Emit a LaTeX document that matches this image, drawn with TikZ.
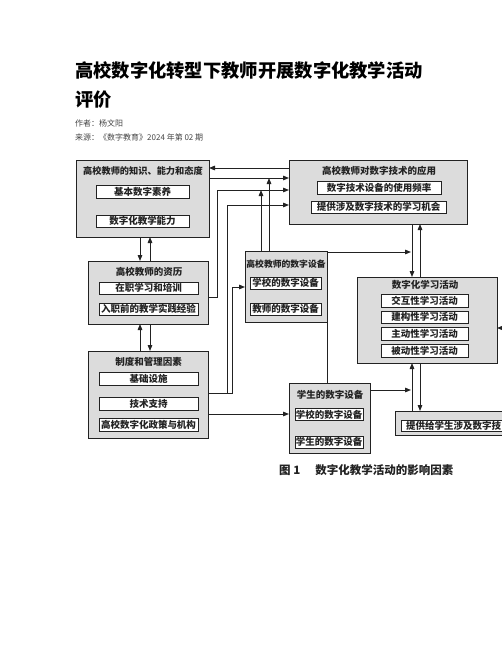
\documentclass[tikz,border=0pt]{standalone}
\usepackage{fontspec}
\setmainfont{Liberation Sans}
\newfontfamily\cjk{Noto Sans CJK SC}
\usetikzlibrary{arrows.meta}
\definecolor{linec}{HTML}{222222}
\definecolor{boxgray}{HTML}{DCDCDC}
\definecolor{metagray}{HTML}{444444}
\newcommand{\bxfont}{\cjk\bfseries\fontsize{9.5}{10}\selectfont}
\begin{document}
\begin{tikzpicture}[x=1pt,y=-1pt,
  obox/.style={draw=linec,line width=1pt,fill=boxgray,inner sep=0pt,outer sep=0pt},
  ibox/.style={draw=linec,line width=0.9pt,fill=white,inner sep=0pt,outer sep=0pt,font=\bxfont,text=linec},
  ttl/.style={inner sep=0pt,font=\bxfont,text=linec},
  conn/.style={draw=linec,line width=0.9pt},
  arr/.style={conn,-{Triangle[length=6pt,width=4.6pt]}}]
\useasboundingbox (0,0) rectangle (502,649);
% heading
\node[anchor=west,inner sep=0pt,font=\cjk\bfseries\fontsize{18.3}{20}\selectfont] (t1) at (75,70) {高校数字化转型下教师开展数字化教学活动};
\node[anchor=west,inner sep=0pt,font=\cjk\bfseries\fontsize{18.3}{20}\selectfont] (t2) at (75,100) {评价};
\node[anchor=west,inner sep=0pt,font=\cjk\fontsize{8}{9}\selectfont,text=metagray] (au) at (75,123) {作者：杨文阳};
\node[anchor=west,inner sep=0pt,font=\cjk\fontsize{8}{9}\selectfont,text=metagray] (src) at (75,137) {来源：《数字教育》2024 年第 02 期};
% boxes
\node[obox,minimum width=133pt,minimum height=77pt] (kab) at (142.5,198.5) {};
\node[ttl,font=\cjk\bfseries\fontsize{9.2}{10}\selectfont] (kabt) at (143,171) {高校教师的知识、能力和态度};
\node[ibox,minimum width=93pt,minimum height=13pt] (kab1) at (142.5,191.5) {基本数字素养};
\node[ibox,minimum width=93pt,minimum height=12pt] (kab2) at (142.5,221) {数字化教学能力};

\node[obox,minimum width=120pt,minimum height=63pt] (qual) at (148,292.5) {};
\node[ttl] (qualt) at (149,272) {高校教师的资历};
\node[ibox,minimum width=99pt,minimum height=12pt] (qual1) at (148.5,288) {在职学习和培训};
\node[ibox,minimum width=99pt,minimum height=12pt] (qual2) at (148.5,309) {入职前的教学实践经验};

\node[obox,minimum width=120pt,minimum height=87pt] (inst) at (148,394.5) {};
\node[ttl] (instt) at (148.5,362) {制度和管理因素};
\node[ibox,minimum width=99pt,minimum height=13pt] (inst1) at (148.5,378.5) {基础设施};
\node[ibox,minimum width=99pt,minimum height=13pt] (inst2) at (148.5,404) {技术支持};
\node[ibox,minimum width=99pt,minimum height=13pt] (inst3) at (148.5,424.5) {高校数字化政策与机构};

\node[obox,minimum width=178pt,minimum height=64pt] (app) at (378,192) {};
\node[ttl] (appt) at (379,171) {高校教师对数字技术的应用};
\node[ibox,minimum width=124pt,minimum height=13pt] (app1) at (379,187.5) {数字技术设备的使用频率};
\node[ibox,minimum width=135pt,minimum height=12pt] (app2) at (378.5,207) {提供涉及数字技术的学习机会};

\node[obox,minimum width=82pt,minimum height=71pt] (teq) at (286,286.5) {};
\node[ttl,font=\cjk\bfseries\fontsize{8.8}{10}\selectfont] (teqt) at (286,264) {高校教师的数字设备};
\node[ibox,minimum width=71pt,minimum height=12pt] (teq1) at (285.5,283) {学校的数字设备};
\node[ibox,minimum width=71pt,minimum height=12pt] (teq2) at (285.5,309) {教师的数字设备};

\node[obox,minimum width=140pt,minimum height=86pt] (learn) at (427,320) {};
\node[ttl] (learnt) at (425,285) {数字化学习活动};
\node[ibox,minimum width=87pt,minimum height=13pt] (learn1) at (424.5,300.5) {交互性学习活动};
\node[ibox,minimum width=87pt,minimum height=12pt] (learn2) at (424.5,317) {建构性学习活动};
\node[ibox,minimum width=87pt,minimum height=13pt] (learn3) at (424.5,333.5) {主动性学习活动};
\node[ibox,minimum width=87pt,minimum height=13pt] (learn4) at (424.5,350.5) {被动性学习活动};

\node[obox,minimum width=81pt,minimum height=70pt] (seq) at (329.5,418) {};
\node[ttl] (seqt) at (330,395) {学生的数字设备};
\node[ibox,minimum width=68pt,minimum height=12pt] (seq1) at (329,414.5) {学校的数字设备};
\node[ibox,minimum width=68pt,minimum height=12pt] (seq2) at (329,442) {学生的数字设备};

\node[obox,minimum width=170pt,minimum height=24pt] (prov) at (480,423) {};
\node[ibox,minimum width=160pt,minimum height=11pt,text width=150pt,align=left] (prov1) at (481,425.5) {提供给学生涉及数字技};

\node[anchor=west,inner sep=0pt,font=\cjk\bfseries\fontsize{11.5}{12}\selectfont,text=linec] (cap) at (279,470) {图 1\hspace{15pt}数字化教学活动的影响因素};

% junction coordinates
\coordinate (jA) at (269,178);
\coordinate (jB) at (261,190);
\coordinate (jC) at (412,252);
\coordinate (jD) at (412,390);
\coordinate (edge) at (503,328);

% connectors
\draw[arr] (app.west |- 0,168) -- (kab.east |- 0,168);
\draw[arr] (kab.east |- 0,178) -- (app.west |- 0,178);
\draw[arr] (qual.east |- 0,297) -- (217,297) -- (217,190) -- (app.west |- 0,190);
\draw[arr] (inst.east |- 0,393) -- (227,393) -- (227,205) -- (app.west |- 0,205);
\draw[arr] (227,393) -- (232,393) -- (232,287) -- (teq.west |- 0,287);
\draw[arr] (teq.north -| 269,0) -- (jA);
\draw[arr] (teq.north -| 261,0) -- (jB);
\draw[arr] (kab.south -| 140,0) -- (qual.north -| 140,0);
\draw[arr] (qual.north -| 150,0) -- (kab.south -| 150,0);
\draw[arr] (inst.north -| 140,0) -- (qual.south -| 140,0);
\draw[arr] (qual.south -| 150,0) -- (inst.north -| 150,0);
\draw[arr] (app.south -| 412,0) -- (learn.north -| 412,0);
\draw[arr] (learn.north -| 420,0) -- (app.south -| 420,0);
\draw[arr] (teq.east |- 0,252) -- ([xshift=-1pt]jC);
\draw[conn] (teq.south -| 327,0) -- (seq.north -| 327,0);
\draw[arr] (inst.east |- 0,414) -- (seq.west |- 0,414);
\draw[arr] (seq.east |- 0,390) -- ([xshift=-1pt]jD);
\draw[arr] (prov.north -| 412,0) -- (learn.south -| 412,0);
\draw[arr] (learn.south -| 420,0) -- (prov.north -| 420,0);
\draw[arr] (edge) -- (learn.east |- edge);
\end{tikzpicture}
\end{document}
